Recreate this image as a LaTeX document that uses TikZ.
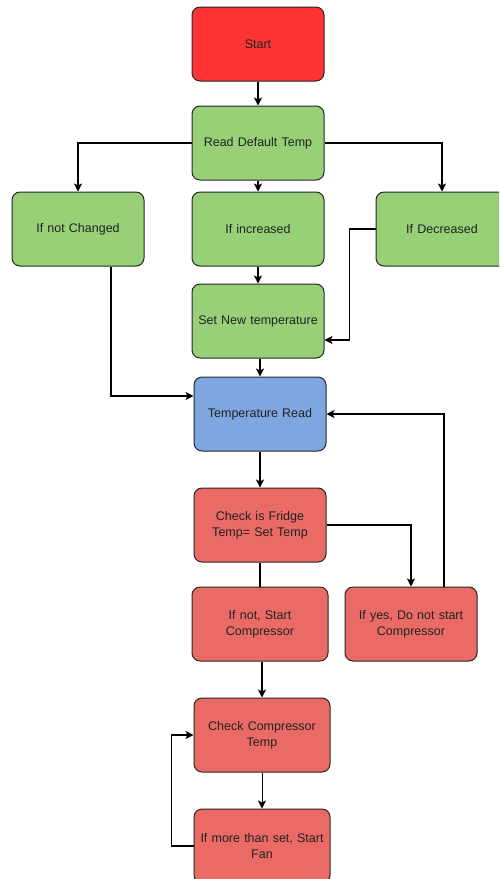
\documentclass[tikz,border=0pt]{standalone}
\usepackage{fontspec}
\setmainfont{Liberation Sans}
\usetikzlibrary{arrows.meta, positioning}
\definecolor{startred}{HTML}{FF3333}
\definecolor{stepgreen}{HTML}{97D077}
\definecolor{readblue}{HTML}{7EA6E0}
\definecolor{checkred}{HTML}{EA6B66}
\definecolor{textgray}{HTML}{222222}

\begin{document}
\begin{tikzpicture}[x=1pt, y=-1pt,
  flowbox/.style={draw=black!85, line width=1pt, rounded corners=8pt,
    minimum width=132pt, minimum height=74pt, inner sep=2pt,
    text width=128pt, align=center, text=textgray,
    font=\fontsize{12.5}{16}\selectfont},
  arr/.style={draw=black, line width=1.6pt, -{Stealth[length=8pt, width=8pt, inset=2pt]}},
  thinarr/.style={draw=black, line width=1pt, -{Stealth[length=8pt, width=8pt, inset=2pt]}}]
  \clip (0,0) rectangle (499,879);

  % setting the temperature
  \node[flowbox, fill=startred] (start) at (258, 44) {Start};
  \node[flowbox, fill=stepgreen] (readdef) at (258, 143) {Read Default Temp};
  \node[flowbox, fill=stepgreen] (nochg) at (78, 229) {If not Changed};
  \node[flowbox, fill=stepgreen] (incr) at (258, 229) {If increased};
  \node[flowbox, fill=stepgreen] (decr) at (442, 229) {If Decreased};
  \node[flowbox, fill=stepgreen] (setnew) at (258, 321) {Set New temperature};

  % reading and checking
  \node[flowbox, fill=readblue] (tread) at (260, 414) {Temperature Read};
  \node[flowbox, fill=checkred] (check) at (260, 525) {Check is Fridge\\Temp= Set Temp};
  \node[flowbox, fill=checkred, minimum width=136pt] (ifnot) at (260, 624) {If not, Start\\Compressor};
  \node[flowbox, fill=checkred] (ifyes) at (411, 624) {If yes, Do not start\\Compressor};
  \node[flowbox, fill=checkred, minimum width=136pt] (chkcomp) at (262, 735) {Check Compressor\\Temp};
  \node[flowbox, fill=checkred, minimum width=136pt] (fan) at (262, 846) {If more than set, Start\\Fan};

  % connectors
  \draw[arr] (start) -- (readdef);
  \draw[arr] (readdef.west) -| (nochg);
  \draw[arr] (readdef) -- (incr);
  \draw[arr] (readdef.east) -| (decr);
  \draw[arr] (incr) -- (setnew);
  \draw[arr] ([xshift=33pt]nochg.south) |- ([yshift=18pt]tread.west);
  \draw[arr] (decr.west) -- ++(-26,0) |- ([yshift=-19pt]setnew.east);
  \draw[arr] (setnew.south -| tread.north) -- (tread.north);
  \draw[arr] (tread) -- (check);
  \draw[arr] (check.east) -| (ifyes);
  \draw[arr] ([xshift=33pt]ifyes.north) |- (tread.east);
  \draw[line width=1.6pt] (check) -- (ifnot);
  \draw[arr] (ifnot.south -| chkcomp.north) -- (chkcomp.north);
  \draw[thinarr] (chkcomp) -- (fan);
  \draw[arr] (fan.west) -- ++(-22,0) |- (chkcomp.west);
\end{tikzpicture}
\end{document}
